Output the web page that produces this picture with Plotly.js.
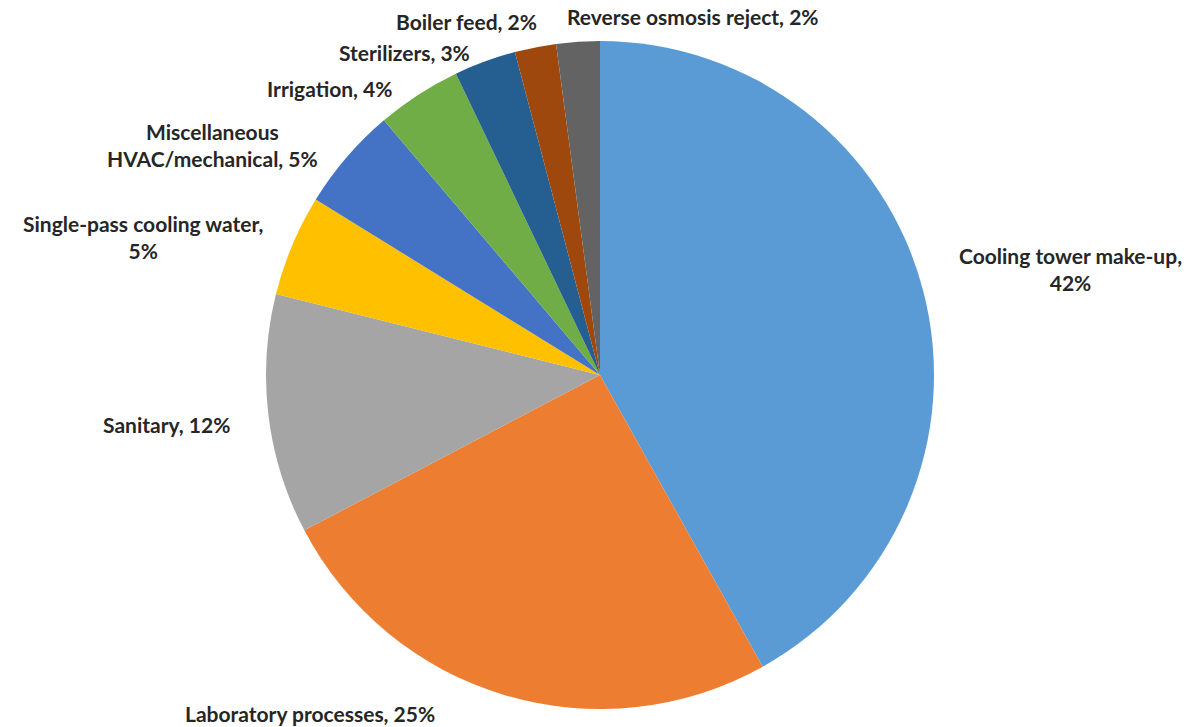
<!DOCTYPE html>
<html>
<head>
<meta charset="utf-8">
<script src="https://cdn.plot.ly/plotly-3.0.1.min.js"></script>
<style>html,body{margin:0;padding:0;background:#fff;}#chart{width:1189px;height:727px;}</style>
</head>
<body>
<div id="chart"></div>
<script>
// Data
var categories = [
  "Cooling tower make-up",
  "Laboratory processes",
  "Sanitary",
  "Single-pass cooling water",
  "Miscellaneous HVAC/mechanical",
  "Irrigation",
  "Sterilizers",
  "Boiler feed",
  "Reverse osmosis reject"
];
var values = [41.9, 25.4, 11.6, 4.9, 5.0, 4.1, 3.0, 2.0, 2.1];
var colors = ["#5B9BD5", "#ED7D31", "#A5A5A5", "#FFC000", "#4472C4", "#70AD47", "#255E91", "#9E480E", "#636363"];

// label text layout (line breaks) and label placement in pixels
var labelLines = [
  ["Cooling tower make-up,", "{p}"],
  ["Laboratory processes, {p}"],
  ["Sanitary, {p}"],
  ["Single-pass cooling water,", "{p}"],
  ["Miscellaneous", "HVAC/mechanical, {p}"],
  ["Irrigation, {p}"],
  ["Sterilizers, {p}"],
  ["Boiler feed, {p}"],
  ["Reverse osmosis reject, {p}"]
];
var labelPx = [[1070, 269], [310, 713], [166, 424], [143, 237], [212, 145], [330, 88], [404, 53], [466, 21], [693, 17]];

var W = 1189, H = 727;
var total = values.reduce(function(a, b) { return a + b; }, 0);

var annotations = categories.map(function(c, i) {
  var pct = Math.round(values[i] / total * 100) + "%";
  var txt = labelLines[i].map(function(s) { return s.replace("{p}", pct); }).join("<br>");
  return {
    text: txt,
    xref: "paper", yref: "paper",
    x: labelPx[i][0] / W, y: 1 - labelPx[i][1] / H,
    xanchor: "center", yanchor: "middle",
    showarrow: false, align: "center",
    font: {family: "Lato, sans-serif", size: 21, color: "#262626", weight: 700}
  };
});

var trace = {
  type: "pie",
  labels: categories,
  values: values,
  sort: false,
  direction: "clockwise",
  rotation: 0,
  textinfo: "none",
  hoverinfo: "label+percent",
  marker: {colors: colors, line: {width: 0}},
  domain: {x: [266 / W, 934 / W], y: [1 - 709 / H, 1 - 41 / H]}
};

var layout = {
  width: W, height: H,
  margin: {l: 0, r: 0, t: 0, b: 0},
  showlegend: false,
  paper_bgcolor: "#ffffff",
  annotations: annotations
};

Plotly.newPlot("chart", [trace], layout, {displayModeBar: false, staticPlot: true});
</script>
</body>
</html>
